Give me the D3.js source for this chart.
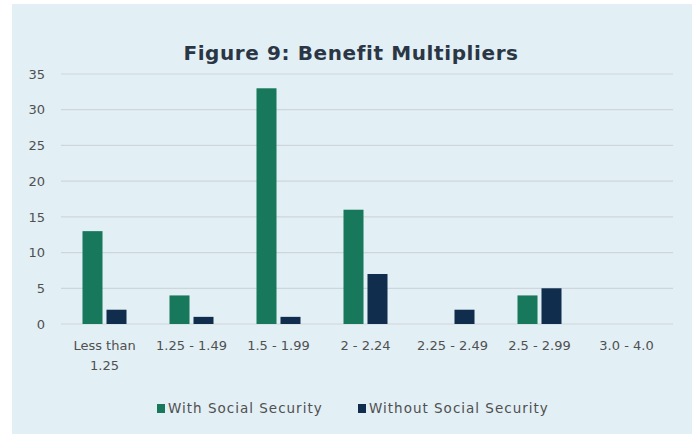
<!DOCTYPE html>
<html>
<head>
<style>
body { margin: 0; background: #fff; }
svg { display: block; }
.tick text { font: 13px "DejaVu Sans", sans-serif; fill: #505050; }
.title { font: bold 20px "DejaVu Sans", sans-serif; fill: #2b3645; text-anchor: middle; letter-spacing: 0.6px; }
.legend text { font: 13.5px "DejaVu Sans", sans-serif; fill: #505050; letter-spacing: 1px; }
</style>
<script src="https://cdn.jsdelivr.net/npm/d3@7"></script>
</head>
<body>
<svg width="696" height="434"></svg>
<script>
// chart data
var categories = ["Less than 1.25", "1.25 - 1.49", "1.5 - 1.99", "2 - 2.24", "2.25 - 2.49", "2.5 - 2.99", "3.0 - 4.0"];
var withSS = [13, 4, 33, 16, 0, 4, 0];
var withoutSS = [2, 1, 1, 7, 2, 5, 0];
var seriesNames = ["With Social Security", "Without Social Security"];
var yTicks = [0, 5, 10, 15, 20, 25, 30, 35];

var colors = ["#17785b", "#112d4e"];

var svg = d3.select("svg");

// panel background
svg.append("rect")
  .attr("x", 12).attr("y", 4)
  .attr("width", 680).attr("height", 430)
  .attr("fill", "#e2eff5");

svg.append("text")
  .attr("class", "title")
  .attr("x", 351).attr("y", 60)
  .text("Figure 9: Benefit Multipliers");

var x = d3.scaleBand().domain(categories).range([61, 670]);
var y = d3.scaleLinear().domain([0, 35]).range([324, 74]);

// gridlines
svg.append("g")
  .selectAll("line")
  .data(yTicks)
  .join("line")
  .attr("x1", 61).attr("x2", 673)
  .attr("y1", function(d) { return y(d); })
  .attr("y2", function(d) { return y(d); })
  .attr("stroke", "#cdd6da")
  .attr("stroke-width", 1.2);

// y axis labels
var yAxis = svg.append("g")
  .attr("transform", "translate(47,0)")
  .call(d3.axisLeft(y).tickValues(yTicks).tickSize(0).tickPadding(2));
yAxis.select(".domain").remove();

// bars
var barW = 20, gap = 4;
var groups = svg.append("g")
  .selectAll("g")
  .data(categories)
  .join("g")
  .attr("transform", function(d) { return "translate(" + (x(d) + x.bandwidth() / 2) + ",0)"; });

groups.append("rect")
  .attr("x", -barW - gap / 2)
  .attr("width", barW)
  .attr("y", function(d, i) { return y(withSS[i]); })
  .attr("height", function(d, i) { return y(0) - y(withSS[i]); })
  .attr("fill", colors[0]);

groups.append("rect")
  .attr("x", gap / 2)
  .attr("width", barW)
  .attr("y", function(d, i) { return y(withoutSS[i]); })
  .attr("height", function(d, i) { return y(0) - y(withoutSS[i]); })
  .attr("fill", colors[1]);

// x axis labels
var xAxis = svg.append("g")
  .attr("transform", "translate(0,324)")
  .call(d3.axisBottom(x).tickSize(0).tickPadding(17));
xAxis.select(".domain").remove();
xAxis.selectAll(".tick text").each(function(d) {
  var t = d3.select(this);
  if (d == "Less than 1.25") {
    t.text(null);
    t.append("tspan").attr("x", 0).attr("dy", "0.71em").text("Less than");
    t.append("tspan").attr("x", 0).attr("dy", "1.55em").text("1.25");
    t.attr("dy", null);
  }
});

// legend
var legend = svg.append("g").attr("class", "legend");
var lx = [157, 358];
seriesNames.forEach(function(name, i) {
  legend.append("rect")
    .attr("x", lx[i]).attr("y", 404)
    .attr("width", 8).attr("height", 9)
    .attr("fill", colors[i]);
  legend.append("text")
    .attr("x", lx[i] + 11).attr("y", 413)
    .text(name);
});
</script>
</body>
</html>
